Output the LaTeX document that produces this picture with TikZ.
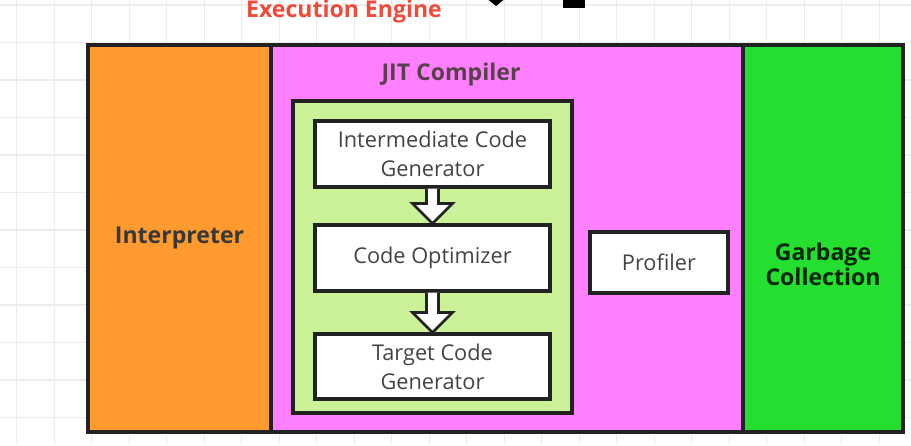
\documentclass[tikz,border=0pt]{standalone}
\usepackage{fontspec}
\setmainfont{Open Sans}
\usepackage{xcolor}
\usetikzlibrary{positioning,calc}
\definecolor{engorange}{HTML}{FF9A2E}
\definecolor{engmagenta}{HTML}{FF80FF}
\definecolor{enggreen}{HTML}{24DE30}
\definecolor{jitgreen}{HTML}{CCF299}
\definecolor{titlered}{HTML}{EE4B3B}
\definecolor{framegray}{HTML}{222222}
\definecolor{textgray}{HTML}{444444}
\tikzset{
    gridline/.style={draw=gray!14, line width=0.8pt},
    engregion/.style={draw=framegray, line width=2.4pt, rectangle, minimum height=10.32cm, inner sep=0pt},
    engbold/.style={font=\fontsize{17.5}{22}\selectfont\bfseries, align=center, text=framegray!90},
    jitframe/.style={draw=framegray, line width=2.4pt, fill=jitgreen, minimum width=7.44cm, minimum height=8.32cm},
    jitstage/.style={draw=framegray, line width=2.4pt, fill=white, align=center, minimum width=6.267cm, minimum height=1.76cm,
        font=\fontsize{16.5}{22}\selectfont, text=textgray},
    hollowarrow/.style={draw=framegray, line width=2pt, fill=white, line join=miter}
}
\begin{document}
\begin{tikzpicture}[x=0.0266667cm, y=-0.0266667cm]
    \useasboundingbox (0,0) rectangle (911,445);
    \fill[white] (0,0) rectangle (911,445);
    % background grid
    \foreach \i in {0,...,24}
        \draw[gridline] ({16.7+37.5*\i},0) -- ++(0,445);
    \foreach \j in {0,...,11}
        \draw[gridline] (0,{5+37.5*\j}) -- ++(911,0);
    % cut-off marks at the top edge
    \fill[black] (486,-2) -- (496,6) -- (506,-2) -- cycle;
    \fill[black] (563,-2) rectangle (585,8);

    \node[engbold, text=titlered] (title) at (344,12) {Execution Engine};

    \node[engregion, fill=engorange, minimum width=4.88cm, engbold] (interp) at (179.5,238.5) {Interpreter};
    \node[engregion, fill=engmagenta, minimum width=12.587cm] (jit) at (507,238.5) {};
    \node[engregion, fill=enggreen, minimum width=4.267cm] (gc) at (823,238.5) {};
    \node[engbold, text=black!85!green] (gclabel) at (823,264) {Garbage\\[-3pt]Collection};
    \node[engbold, text=black!75!magenta] (jitlabel) at (451,75) {JIT Compiler};

    \node[jitframe] (jitbox) at (432.5,257) {};
    \node[jitstage] (icg) at (432.5,154) {Intermediate Code\\Generator};
    \node[jitstage] (opt) at (432.5,258) {Code Optimizer};
    \node[jitstage, minimum height=1.733cm] (tcg) at (432.5,366.5) {Target Code\\Generator};
    \node[jitstage, minimum width=3.68cm, minimum height=1.627cm] (prof) at (659,262.5) {Profiler};

    \draw[hollowarrow] ($(icg.south)+(-6,0)$) -- ($(opt.north)+(-6,-20)$) -- ($(opt.north)+(-20,-20)$)
        -- (opt.north) -- ($(opt.north)+(20,-20)$) -- ($(opt.north)+(6,-20)$) -- ($(icg.south)+(6,0)$);
    \draw[hollowarrow] ($(opt.south)+(-6,0)$) -- ($(tcg.north)+(-6,-20)$) -- ($(tcg.north)+(-20,-20)$)
        -- (tcg.north) -- ($(tcg.north)+(20,-20)$) -- ($(tcg.north)+(6,-20)$) -- ($(opt.south)+(6,0)$);
\end{tikzpicture}
\end{document}
